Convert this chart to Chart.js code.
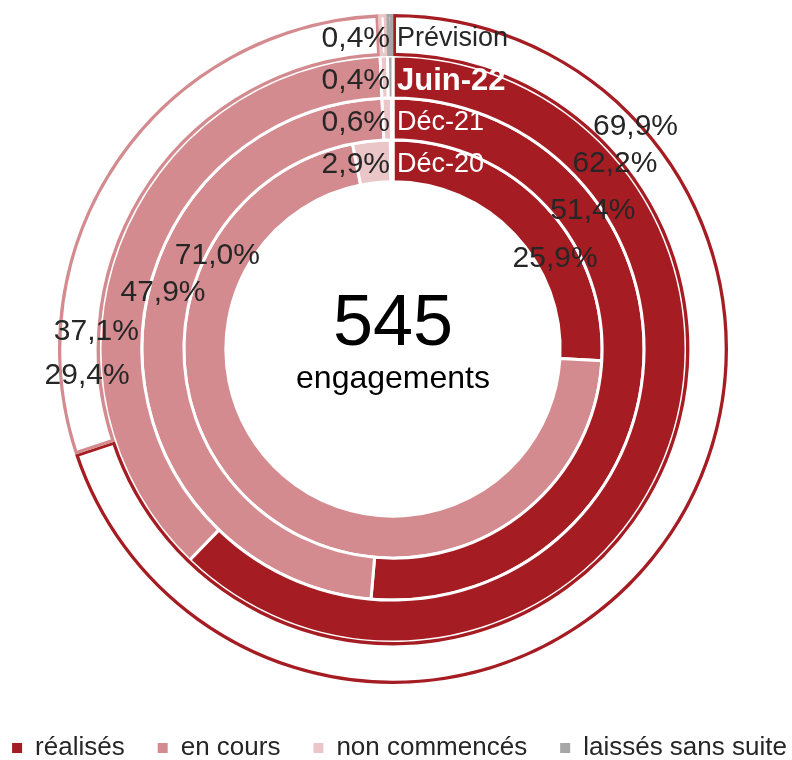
<!DOCTYPE html>
<html>
<head>
<meta charset="utf-8">
<script src="https://cdn.jsdelivr.net/npm/chart.js@4.4.0/dist/chart.umd.min.js"></script>
<style>
  html, body { margin: 0; padding: 0; background: #fff; overflow: hidden; }
  canvas { display: block; margin-left: -7px; margin-top: -4px; }
</style>
</head>
<body>
<canvas id="ringChart" width="800" height="764"></canvas>
<script>
const categories = ['réalisés', 'en cours', 'non commencés', 'laissés sans suite'];
const rings = ['Prévision', 'Juin-22', 'Déc-21', 'Déc-20'];
const realises = [69.9, 62.2, 51.4, 25.9];
const enCours = [29.4, 37.1, 47.9, 71.0];
const nonCommences = [0.4, 0.4, 0.6, 2.9];
const laisses = [0.3, 0.3, 0.1, 0.2];
const totalEngagements = 545;

const colors = ['#A51D23', '#D48B8F', '#EBC6C8', '#A6A6A6'];
const darkText = '#262626';
const family = '"Liberation Sans", Arial, sans-serif';

// label spots: [angle from 12 o'clock in deg, place across the ring (0 inner edge, 1 outer edge)]
const realisesLabelPos = [[47.3, 0.88], [49.9, 0.93], [55, 0.83], [60.4, 0.46]];
const enCoursLabelPos = [[265.3, 0.33], [273.7, 1.1], [284.2, 0.67], [298.5, 0.78]];

const fmt = v => v.toFixed(1).replace('.', ',') + '%';

const datasets = rings.map((name, i) => {
  const values = [realises[i], enCours[i], nonCommences[i], laisses[i]];
  if (i === 0) {
    // forecast ring is only outlined
    return { label: name, data: values, backgroundColor: '#ffffff', borderColor: colors, borderWidth: 3, borderAlign: 'inner' };
  }
  return { label: name, data: values, backgroundColor: colors, borderColor: '#ffffff', borderWidth: 3 };
});

const ringLabels = {
  id: 'ringLabels',
  afterDatasetsDraw(chart) {
    const ctx = chart.ctx;
    ctx.save();
    ctx.textBaseline = 'middle';
    let cx = 0, cy = 0;
    rings.forEach((name, i) => {
      const arc = chart.getDatasetMeta(i).data[0];
      const {x, y, innerRadius, outerRadius} = arc.getProps(['x', 'y', 'innerRadius', 'outerRadius'], true);
      cx = x; cy = y;
      const mid = (innerRadius + outerRadius) / 2;
      const put = (text, pos) => {
        const a = pos[0] * Math.PI / 180;
        const r = innerRadius + (outerRadius - innerRadius) * pos[1];
        ctx.fillText(text, x + r * Math.sin(a), y - r * Math.cos(a) + 2);
      };
      ctx.font = '30px ' + family;
      ctx.fillStyle = darkText;
      ctx.textAlign = 'center';
      put(fmt(realises[i]), realisesLabelPos[i]);
      put(fmt(enCours[i]), enCoursLabelPos[i]);
      ctx.textAlign = 'right';
      ctx.fillText(fmt(nonCommences[i]), x - 3, y - mid + 3.5);
      ctx.textAlign = 'left';
      ctx.fillStyle = i === 0 ? darkText : '#ffffff';
      ctx.font = (i === 1 ? 'bold 31px ' : '27px ') + family;
      ctx.fillText(name, x + 4, y - mid + (i === 1 ? 5 : 3.5));
    });

    ctx.textAlign = 'center';
    ctx.textBaseline = 'alphabetic';
    ctx.fillStyle = '#000000';
    ctx.font = '72px ' + family;
    ctx.fillText(String(totalEngagements), cx, cy - 4);
    ctx.font = '32px ' + family;
    ctx.fillText('engagements', cx, cy + 39);
    ctx.restore();
  }
};

const ctx1 = document.getElementById('ringChart').getContext('2d');
new Chart(ctx1, {
  type: 'doughnut',
  data: {
    labels: categories,
    datasets: datasets
  },
  options: {
    responsive: false,
    animation: false,
    cutout: '49.9%',
    radius: 335,
    layout: { padding: { top: 0, right: -27, bottom: -11, left: -14 } },
    plugins: {
      legend: {
        position: 'bottom',
        labels: {
          boxWidth: 10,
          boxHeight: 10,
          padding: 33,
          color: darkText,
          font: { family: family, size: 26 },
          generateLabels: chart => chart.data.labels.map((t, i) => ({
            text: t,
            fillStyle: colors[i],
            strokeStyle: colors[i],
            lineWidth: 0,
            fontColor: darkText,
            hidden: false,
            index: i
          }))
        }
      },
      tooltip: { enabled: false }
    }
  },
  plugins: [ringLabels]
});
</script>
</body>
</html>
